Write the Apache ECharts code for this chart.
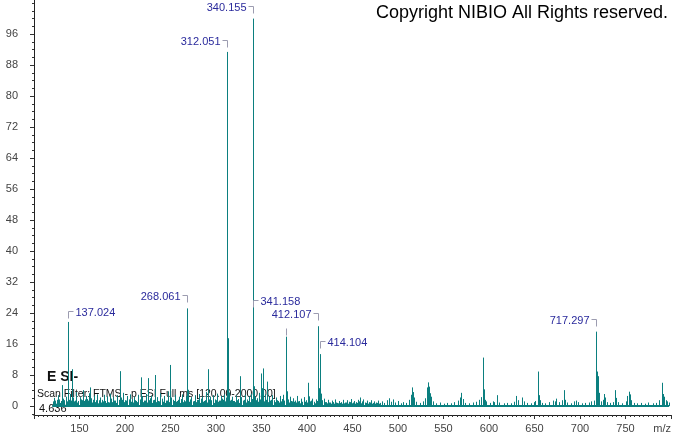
<!DOCTYPE html>
<html><head><meta charset="utf-8">
<script src="https://cdn.jsdelivr.net/npm/echarts@6/dist/echarts.min.js"></script>
<style>html,body{margin:0;padding:0;background:#fff}#c{width:674px;height:434px}</style>
</head><body><div id="c"></div>
<script>
// ---- data (m/z, relative abundance %) ----
const majorPeaks = [[137.024,21.7],[268.061,25.2],[312.051,91.4],[313.05,17.5],[340.155,100],[341.158,21.4],[376.6,17.9],[412.107,20.6],[414.104,13.4],[717.297,19.2]];
const mediumPeaks = [[130.6,5.4],[141.6,9.5],[161.7,4.8],[194.6,9.0],[217.3,7.4],[224.9,7.2],[233.3,8.0],[249.8,10.6],[291.4,9.5],[326.2,7.7],[349.2,8.4],[352,9.7],[356.5,6.3],[401.5,6.0],[515.5,4.8],[533,6.1],[535,3.3],[569.6,3.4],[593.4,12.5],[594.4,4.3],[608.7,2.8],[653.6,8.9],[654.6,2.8],[682.2,4.1],[718.3,8.9],[719.3,7.7],[726.4,3.1],[739,4.1],[753.4,3.7],[789.6,6.0],[790.6,5.2],[791.6,3.1]];
const noiseLow = [[120.5,1.2],[122,2.1],[123.5,0.8],[125,1.6],[126.5,2.8],[128,1.1],[129.5,0.7],[132,1.9],[133.5,1.3],[135,2.4],[139,1.5],[140,3.1],[143,2.2],[145,1.4],[146.5,3.6],[148,1.0],[150,2.3],[152,1.7],[153.5,4.1],[155,1.3],[157,2.6],[158.5,1.8],[160,3.3],[163,2.0],[164.5,1.2],[166,2.7],[168,1.5],[169.5,3.0],[171,1.1],[173,2.2],[175,1.6],[176.5,2.9],[178,1.3],[180,2.5],[181.5,1.0],[183,3.2],[185,1.9],[187,2.4],[189,1.4],[191,2.8],[193,1.6],[196,2.2],[198,3.4],[200,1.5],[202,2.6],[204,1.2],[206,3.0],[208,1.8],[210,2.4],[212,1.3],[214,2.9],[216,1.7],[219,2.5],[221,1.4],[223,3.1],[227,2.0],[229,2.7],[231,1.5],[235,2.3],[237,1.2],[239,3.3],[241,1.9],[243,2.6],[245,1.4],[247,3.8],[251,2.2],[253,1.6],[255,2.9],[257,1.3],[259,2.4],[261,1.8],[263,3.0],[265,1.5],[267,2.6],[269.1,4.2],[271,1.7],[273,2.3],[275,1.2],[277,2.8],[279,1.6],[281,3.1],[283,1.9],[285,2.5],[287,1.3],[289,3.6],[293,2.4],[295,1.5],[297,2.8],[299,1.7],[301,3.2],[303,1.4],[305,2.6],[307,1.9],[309,3.0],[311,2.2],[314.1,3.5],[316,1.6],[318,2.4],[320,1.3],[322,2.7],[324,1.8],[328,2.3],[330,1.4],[332,2.9],[334,1.7],[336,2.5],[338,3.2],[342.2,5.1],[343.2,2.4],[345,2.0],[347,3.4],[350.5,4.6],[354,3.0],[358,2.4],[360,1.6],[362,2.8],[364,1.5],[366,2.2],[368,1.3],[370,2.6],[372,1.8],[374,2.9],[377.6,3.8],[379,1.7],[381,2.4],[383,1.2],[385,2.0],[387,1.4],[389,2.6],[391,1.3],[393,1.9],[395,1.1],[397,2.3],[399,1.5],[402.5,2.5],[404,1.4],[406,1.9],[408,1.1],[410,1.7],[413.1,4.6],[415.1,3.2],[417,1.5],[419,1.9],[421,1.0],[423,1.6],[425,0.9],[427,1.4],[429,1.0],[431,1.7],[433,0.8],[435,1.3],[437,1.0],[440,1.6],[442,0.9],[444,1.5],[446,1.1],[448,1.8],[450,0.9],[452,1.3],[454,1.0],[456,1.6],[458,2.2],[460,1.2],[462,1.7],[464,0.9],[466,1.4],[468,1.0],[470,1.5],[472,0.8],[474,1.2],[476,0.9],[478,1.4],[480,0.8]];
const noiseFill = [[121.2,0.9],[122.7,1.4],[124.2,0.6],[125.7,1.1],[127.2,1.7],[128.7,0.8],[130.2,1.3],[131.7,0.7],[133.2,1.5],[134.7,0.9],[136.2,1.2],[138.2,1.6],[139.7,0.8],[141.2,1.4],[142.7,0.7],[144.2,1.2],[145.7,1.8],[147.2,0.9],[148.7,1.3],[150.7,0.8],[152.7,1.5],[154.2,0.9],[155.7,1.7],[157.7,1.0],[159.2,1.4],[161.2,0.8],[162.2,1.3],[163.7,0.9],[165.2,1.6],[167.2,1.0],[168.7,1.4],[170.2,0.7],[171.7,1.5],[173.7,0.9],[175.7,1.2],[177.2,1.8],[178.7,0.8],[180.7,1.3],[182.2,0.9],[184.2,1.6],[186.2,1.0],[187.7,1.4],[189.7,0.8],[191.7,1.5],[193.7,1.1],[195.2,0.7],[196.7,1.6],[199.2,1.0],[200.7,1.4],[202.7,0.8],[204.7,1.7],[206.7,1.1],[208.7,0.9],[210.7,1.5],[212.7,1.0],[214.7,1.3],[216.7,0.8],[218.2,1.6],[220.2,1.0],[222.2,1.4],[224.2,0.9],[226.2,1.5],[228.2,1.1],[230.2,0.8],[232.2,1.6],[234.2,1.0],[236.2,1.3],[238.2,0.9],[240.2,1.7],[242.2,1.1],[244.2,0.8],[246.2,1.4],[248.2,1.0],[250.7,1.5],[252.2,0.9],[254.2,1.3],[256.2,1.1],[258.2,1.6],[260.2,0.8],[262.2,1.4],[264.2,1.0],[266.2,1.2],[268.9,1.9],[270.2,1.1],[272.2,1.5],[274.2,0.9],[276.2,1.3],[278.2,1.0],[280.2,1.6],[282.2,0.8],[284.2,1.4],[286.2,1.1],[288.2,1.5],[290.2,0.9],[292.2,1.7],[294.2,1.0],[296.2,1.3],[298.2,0.8],[300.2,1.5],[302.2,1.1],[304.2,1.4],[306.2,0.9],[308.2,1.6],[310.2,1.2],[315.2,1.4],[317.2,0.9],[319.2,1.3],[321.2,1.0],[323.2,1.5],[325.2,0.8],[327.2,1.4],[329.2,1.1],[331.2,1.6],[333.2,0.9],[335.2,1.3],[337.2,1.0],[339.2,1.8],[344.2,1.5],[346.2,1.1],[348.2,1.7],[351.2,1.4],[353.2,1.2],[355.2,1.6],[357.2,1.0],[359.2,1.4],[361.2,0.8],[363.2,1.3],[365.2,1.0],[367.2,1.5],[369.2,0.9],[371.2,1.2],[373.2,1.0],[375.2,1.4],[378.2,1.2],[380.2,0.9],[382.2,1.3],[384.2,0.8],[386.2,1.1],[388.2,0.9],[390.2,1.2],[392.2,0.7],[394.2,1.0],[396.2,0.8],[398.2,1.1],[400.2,0.9],[403.2,1.2],[405.2,0.8],[407.2,1.0],[409.2,0.7],[411.2,1.3],[416.2,1.1],[418.2,0.8],[420.2,1.0],[422.2,0.7],[424.2,0.9],[426.2,0.6],[428.2,0.8],[430.2,0.6],[432.2,0.9],[434.2,0.7],[436.2,0.8],[438.2,0.6],[439.2,1.0],[441.2,0.7],[443.2,0.9],[445.2,0.6],[447.2,1.0],[449.2,0.7],[451.2,0.9],[453.2,0.6],[455.2,0.8],[457.2,1.2],[459.2,0.7],[461.2,0.9],[463.2,0.6],[465.2,0.8],[467.2,0.6],[469.2,0.9],[471.2,0.6],[473.2,0.8],[475.2,0.6],[477.2,0.8],[479.2,0.6]];
const noiseHigh = [[482,1.2],[485,0.8],[488,1.5],[490,2.0],[492,1.1],[494,1.7],[497,0.9],[500,1.3],[503,0.7],[506,1.0],[509,0.8],[512,1.6],[514,2.9],[516.5,3.6],[518,2.2],[520,1.1],[524,0.8],[528,1.2],[530,2.0],[531.5,4.8],[534,5.0],[536,2.4],[538,1.2],[542,0.7],[546,0.9],[550,0.6],[554,0.8],[558,0.7],[562,1.0],[566,1.4],[568,2.2],[571,1.8],[574,0.8],[578,0.7],[582,0.9],[586,1.1],[589,1.6],[591,2.3],[595.4,1.6],[597,1.2],[601,0.8],[604,1.2],[606,1.0],[611,0.9],[616,0.7],[620,0.8],[624,0.7],[627,1.1],[630,2.6],[632,1.5],[636,2.2],[638,1.2],[642,0.8],[646,0.7],[649,1.0],[651,1.3],[656,1.5],[658,0.8],[662,0.7],[666,1.0],[670,1.4],[672,1.2],[674,1.9],[677,1.0],[680,1.5],[684,1.6],[686,0.9],[690,0.7],[693,1.2],[696,1.4],[698,1.0],[702,0.7],[706,0.8],[710,0.9],[712,1.2],[715,1.4],[720.3,5.5],[721.3,3.4],[723,1.2],[725,1.6],[728,2.2],[730,1.0],[733,0.8],[736,1.0],[740,2.1],[742,1.0],[746,0.7],[750,1.2],[752,2.6],[754.4,3.0],[756,1.5],[759,0.8],[763,0.7],[767,0.8],[771,0.6],[775,0.9],[780,0.7],[784,0.8],[787,1.5],[792.6,2.4],[794,1.5],[796,1.2],[798,0.9]];
const baselineRange = [[120,0],[798,0]];

// annotations
const labelMz = [137.024, 268.061, 312.051, 340.155, 341.158, 376.6, 412.107, 414.104, 717.297];
const labelIntensity = [21.7, 25.2, 91.4, 100, 21.4, 17.9, 20.6, 13.4, 19.2];
const labelText = ['137.024', '268.061', '312.051', '340.155', '341.158', '', '412.107', '414.104', '717.297'];
const labelSide = ['R', 'L', 'L', 'L', 'R', 'L', 'L', 'R', 'L'];

// axis ticks
const yTickLabels = [0, 8, 16, 24, 32, 40, 48, 56, 64, 72, 80, 88, 96];
const yMinorTicks = [-2,0,2,4,6,8,10,12,14,16,18,20,22,24,26,28,30,32,34,36,38,40,42,44,46,48,50,52,54,56,58,60,62,64,66,68,70,72,74,76,78,80,82,84,86,88,90,92,94,96,98,100,102,104];
const xTickLabels = [150, 200, 250, 300, 350, 400, 450, 500, 550, 600, 650, 700, 750, 800];

// ---- layout / style config ----
const labelLift = [11, 13, 12, 13, 23, 9, 13, 13, 13];
const TEAL = '#0b7f7f';
const FONT = '"Liberation Sans", Arial, sans-serif';

const chart = echarts.init(document.getElementById('c'), null, {renderer: 'canvas'});

function stick(params, api) {
  const x = api.value(0), y = api.value(1);
  const p0 = api.coord([x, 0]);
  const p1 = api.coord([x, y]);
  const px = Math.round(p0[0]) + 0.5;
  return {type: 'line', shape: {x1: px, y1: p0[1], x2: px, y2: p1[1]}, style: {stroke: TEAL, lineWidth: 1}};
}

const annData = labelMz.map((m, i) => [m, labelIntensity[i], i]);

const option = {
  animation: false,
  backgroundColor: '#fff',
  grid: {left: 34, right: 1, top: 0, bottom: 19, containLabel: false},
  xAxis: {
    type: 'value', min: 100, max: 800, interval: 50,
    axisLine: {show: true, onZero: false, lineStyle: {color: '#222', width: 1}},
    axisTick: {show: true, length: 4, lineStyle: {color: '#333'}},
    minorTick: {show: true, splitNumber: 10, length: 2, lineStyle: {color: '#333'}},
    splitLine: {show: false},
    axisLabel: {
      customValues: xTickLabels,
      color: '#444', fontSize: 11, fontFamily: FONT, margin: 8,
      alignMaxLabel: 'right',
      formatter: v => v === 800 ? 'm/z' : String(v)
    }
  },
  yAxis: [{
    type: 'value', min: -2.32, max: 104.8,
    axisLine: {show: true, onZero: false, lineStyle: {color: '#222', width: 1}},
    axisTick: {show: true, length: 4, customValues: yTickLabels, lineStyle: {color: '#333'}},
    splitLine: {show: false},
    axisLabel: {customValues: yTickLabels, color: '#444', fontSize: 11, fontFamily: FONT, margin: 16}
  }, {
    type: 'value', min: -2.32, max: 104.8, position: 'left',
    axisLine: {show: false},
    axisTick: {show: true, length: 2, customValues: yMinorTicks, lineStyle: {color: '#333'}},
    splitLine: {show: false},
    axisLabel: {show: false}
  }],
  graphic: [
    {type: 'text', right: 6, top: 4, z: 10, style: {text: 'Copyright NIBIO All Rights reserved.', font: '18px ' + FONT, fill: '#000'}},
    {type: 'text', left: 47, top: 370, z: -1, style: {text: 'E SI-', font: 'bold 14px ' + FONT, fill: '#111'}},
    {type: 'text', left: 37, top: 389, z: -1, style: {text: 'Scan Filter: FTMS - p ESI Full ms [120.00-2000.00]', font: '10.5px ' + FONT, fill: '#111'}},
    {type: 'text', left: 39, top: 403, z: -1, style: {text: '4.636', font: '11px ' + FONT, fill: '#111'}}
  ],
  series: [
    {type: 'line', data: baselineRange, symbol: 'none', lineStyle: {color: TEAL, width: 2}, z: 3, silent: true},
    {type: 'custom', renderItem: stick, data: noiseFill, z: 3, silent: true},
    {type: 'custom', renderItem: stick, data: noiseLow, z: 3, silent: true},
    {type: 'custom', renderItem: stick, data: noiseHigh, z: 3, silent: true},
    {type: 'custom', renderItem: stick, data: mediumPeaks, z: 3, silent: true},
    {type: 'custom', renderItem: stick, data: majorPeaks, z: 3, silent: true},
    {type: 'custom', data: annData, z: 5, silent: true, clip: false,
     renderItem: function (params, api) {
       const i = api.value(2);
       const p = api.coord([api.value(0), api.value(1)]);
       const x = Math.round(p[0]) + 0.5;
       const top = Math.round(p[1] - labelLift[i]) + 0.5;
       const txt = labelText[i];
       const side = labelSide[i];
       const br = {stroke: '#9c9cb0', lineWidth: 1};
       const children = [{type: 'line', shape: {x1: x, y1: top, x2: x, y2: top + 7}, style: br}];
       if (txt) {
         const hx = side === 'L' ? x - 5 : x + 5;
         children.push({type: 'line', shape: {x1: hx, y1: top, x2: x, y2: top}, style: br});
         children.push({type: 'text', style: {
           text: txt, x: side === 'L' ? x - 7 : x + 7, y: top + 1,
           align: side === 'L' ? 'right' : 'left', verticalAlign: 'middle',
           font: '11px ' + FONT, fill: '#2a2a9c'}});
       }
       return {type: 'group', children: children};
     }}
  ]
};
chart.setOption(option);
</script></body></html>
